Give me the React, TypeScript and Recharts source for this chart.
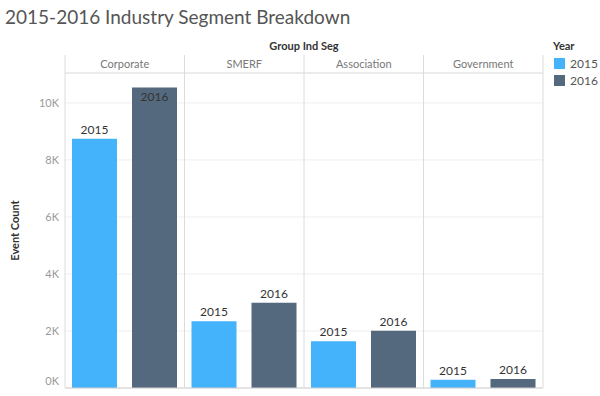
import React from 'react';
import { BarChart, Bar, XAxis, YAxis, CartesianGrid, LabelList, ReferenceLine } from 'recharts';

const segments = ['Corporate', 'SMERF', 'Association', 'Government'];
const events2015 = [8740, 2340, 1640, 290];
const events2016 = [10540, 2990, 2010, 320];
const years = ['2015', '2016'];
const yTicks = [0, 2000, 4000, 6000, 8000, 10000];

const COLORS = { '2015': '#44b3fc', '2016': '#55697e' };
const FONT = 'Lato, "Open Sans", sans-serif';

const W = 600;
const H = 396;
const MARGIN = { top: 55, right: 57, bottom: 8, left: 0 };
const Y_W = 65;
const HEADER_H = 18;
const PLOT_TOP = MARGIN.top + HEADER_H;
const PLOT_BOTTOM = H - MARGIN.bottom;
const BAND = (W - MARGIN.right - MARGIN.left - Y_W) / segments.length;

const data = segments.map((seg, i) => ({
  segment: seg,
  '2015': events2015[i],
  '2016': events2016[i],
}));

function HeaderTick(props: any) {
  const { x, payload, index } = props;
  const left = x - BAND / 2;
  return (
    <g>
      <line x1={left} x2={left} y1={MARGIN.top} y2={PLOT_BOTTOM} stroke="#dcdcdc" />
      {index === segments.length - 1 && (
        <line x1={left + BAND} x2={left + BAND} y1={MARGIN.top} y2={PLOT_BOTTOM} stroke="#dcdcdc" />
      )}
      <text x={x} y={MARGIN.top + HEADER_H / 2 + 4} textAnchor="middle" fontSize={11} fill="#777" fontFamily={FONT}>
        {payload.value}
      </text>
    </g>
  );
}

function YTick(props: any) {
  const { x, y, payload } = props;
  // tableau nudges the bottom label up so it stays inside the pane
  const yy = payload.value === 0 ? y - 7 : y;
  return (
    <text x={x} y={yy + 4} textAnchor="end" fontSize={11} fill="#999" fontFamily={FONT}>
      {payload.value / 1000}K
    </text>
  );
}

function yearLabel(year: string) {
  return (props: any) => {
    const { x, y, width } = props;
    const inside = y - 16 < PLOT_TOP;
    return (
      <text
        x={x + width / 2}
        y={inside ? y + 13 : y - 5}
        textAnchor="middle"
        fontSize={12}
        fill="#333"
        fontFamily={FONT}
      >
        {year}
      </text>
    );
  };
}

export default function App() {
  return (
    <div style={{ position: 'absolute', left: 0, top: 0, width: W, height: H, background: '#fff', fontFamily: FONT }}>
      <div style={{ position: 'absolute', left: 5, top: 5, fontSize: 19, color: '#555', whiteSpace: 'nowrap' }}>
        2015-2016 Industry Segment Breakdown
      </div>
      <div
        style={{
          position: 'absolute',
          left: Y_W,
          width: W - MARGIN.right - Y_W,
          top: 39,
          textAlign: 'center',
          fontSize: 11,
          fontWeight: 700,
          color: '#333',
        }}
      >
        Group Ind Seg
      </div>
      <div style={{ position: 'absolute', left: 553, top: 39, fontSize: 11, color: '#333' }}>
        <div style={{ fontWeight: 700, marginBottom: 3 }}>Year</div>
        {years.map((yr) => (
          <div key={yr} style={{ display: 'flex', alignItems: 'center', height: 17 }}>
            <span style={{ display: 'inline-block', width: 11, height: 11, background: COLORS[yr as '2015' | '2016'], marginRight: 5, marginLeft: 1 }} />
            <span style={{ color: '#555', fontSize: 12 }}>{yr}</span>
          </div>
        ))}
      </div>
      <BarChart width={W} height={H} data={data} margin={MARGIN} barSize={45} barGap={15}>
        <CartesianGrid vertical={false} stroke="#eeeeee" />
        <XAxis
          dataKey="segment"
          orientation="top"
          height={HEADER_H}
          axisLine={{ stroke: '#e0e0e0' }}
          tickLine={false}
          tick={<HeaderTick />}
          interval={0}
        />
        <YAxis
          width={Y_W}
          domain={[0, 11050]}
          ticks={yTicks}
          interval={0}
          axisLine={false}
          tickLine={false}
          tickMargin={0}
          tick={<YTick />}
          label={({ viewBox }: any) => (
            <text
              x={viewBox.x + 14}
              y={viewBox.y + viewBox.height / 2}
              transform={`rotate(-90 ${viewBox.x + 14} ${viewBox.y + viewBox.height / 2})`}
              textAnchor="middle"
              dominantBaseline="central"
              fontSize={11}
              fontWeight={700}
              fill="#333"
              fontFamily={FONT}
            >
              Event Count
            </text>
          )}
        />
        <ReferenceLine y={0} stroke="#cfcfcf" />
        {years.map((yr) => (
          <Bar key={yr} dataKey={yr} fill={COLORS[yr as '2015' | '2016']} isAnimationActive={false}>
            <LabelList dataKey={yr} content={yearLabel(yr)} />
          </Bar>
        ))}
      </BarChart>
    </div>
  );
}
